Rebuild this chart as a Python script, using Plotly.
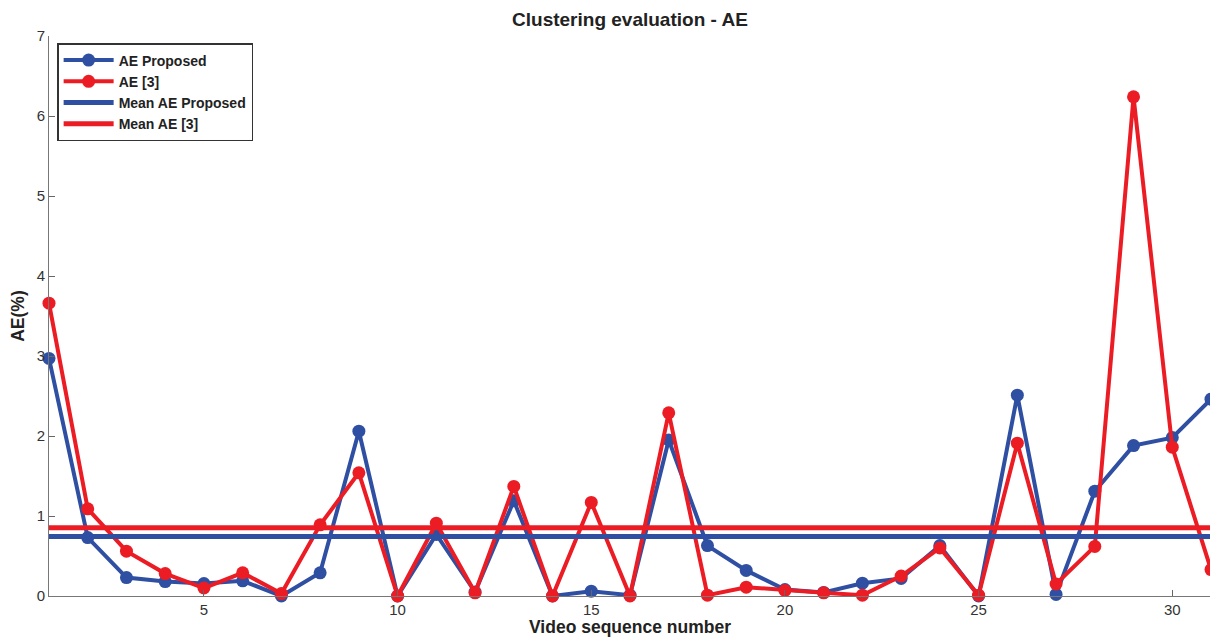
import numpy as np
import plotly.graph_objects as go

seq = list(range(1, 32))
ae_proposed = [2.97, 0.73, 0.23, 0.18, 0.155, 0.19, 0.0, 0.29, 2.06, 0.0,
               0.77, 0.05, 1.19, 0.0, 0.06, 0.01, 1.95, 0.63, 0.32, 0.08,
               0.045, 0.16, 0.22, 0.63, 0.0, 2.51, 0.02, 1.31, 1.88, 1.98, 2.46]
ae_ref3 = [3.66, 1.09, 0.56, 0.28, 0.10, 0.29, 0.03, 0.89, 1.54, 0.0,
           0.91, 0.04, 1.37, 0.0, 1.17, 0.0, 2.29, 0.01, 0.11, 0.07,
           0.04, 0.01, 0.25, 0.60, 0.01, 1.91, 0.15, 0.62, 6.24, 1.86, 0.33]
x_ticks = [5, 10, 15, 20, 25, 30]
y_ticks = [0, 1, 2, 3, 4, 5, 6, 7]

BLUE = "#2F4FA2"
RED = "#EC1C24"

mean_p = float(np.mean(ae_proposed))
mean_r = float(np.mean(ae_ref3))

fig = go.Figure()
fig.add_trace(go.Scatter(x=seq, y=ae_proposed, mode="lines+markers", name="<b>AE Proposed</b>",
                         line=dict(color=BLUE, width=4), marker=dict(color=BLUE, size=13),
                         cliponaxis=False))
fig.add_trace(go.Scatter(x=seq, y=ae_ref3, mode="lines+markers", name="<b>AE [3]</b>",
                         line=dict(color=RED, width=4), marker=dict(color=RED, size=13),
                         cliponaxis=False))
fig.add_trace(go.Scatter(x=[seq[0], seq[-1]], y=[mean_p, mean_p], mode="lines",
                         name="<b>Mean AE Proposed</b>", line=dict(color=BLUE, width=5)))
fig.add_trace(go.Scatter(x=[seq[0], seq[-1]], y=[mean_r, mean_r], mode="lines",
                         name="<b>Mean AE [3]</b>", line=dict(color=RED, width=5)))

# page body has an 8px margin, so the figure is 8px smaller and margins shifted
fig.update_layout(
    width=1210, height=629,
    margin=dict(l=41, r=7, t=28, b=41, autoexpand=False),
    paper_bgcolor="white", plot_bgcolor="white",
    font=dict(family="Liberation Sans, Arial, sans-serif", size=15, color="#222"),
    title=dict(text="<b>Clustering evaluation - AE</b>", x=0.514, xanchor="center",
               y=0.982, yanchor="middle", font=dict(size=19, color="#222")),
    showlegend=True,
    legend=dict(x=0.007, y=0.9875, xanchor="left", yanchor="top",
                bgcolor="white", bordercolor="#333", borderwidth=1.5,
                font=dict(size=14, color="#222"), tracegroupgap=0,
                itemwidth=50),
)
fig.update_xaxes(range=[1, 31], tickvals=x_ticks, ticks="inside", ticklen=6,
                 tickcolor="#666", showline=True, linecolor="#777", linewidth=1,
                 showgrid=False, zeroline=False, mirror=False, automargin=False,
                 title=dict(text="<b>Video sequence number</b>", font=dict(size=17.5), standoff=0),
                 tickfont=dict(size=15, color="#333"))
fig.update_yaxes(range=[0, 7], tickvals=y_ticks, ticks="inside", ticklen=6,
                 tickcolor="#666", showline=True, linecolor="#777", linewidth=1,
                 showgrid=False, zeroline=False, mirror=False, automargin=False,
                 title=dict(text="<b>AE(%)</b>", font=dict(size=17.5), standoff=8),
                 tickfont=dict(size=15, color="#333"))

fig.write_html("out.html")
